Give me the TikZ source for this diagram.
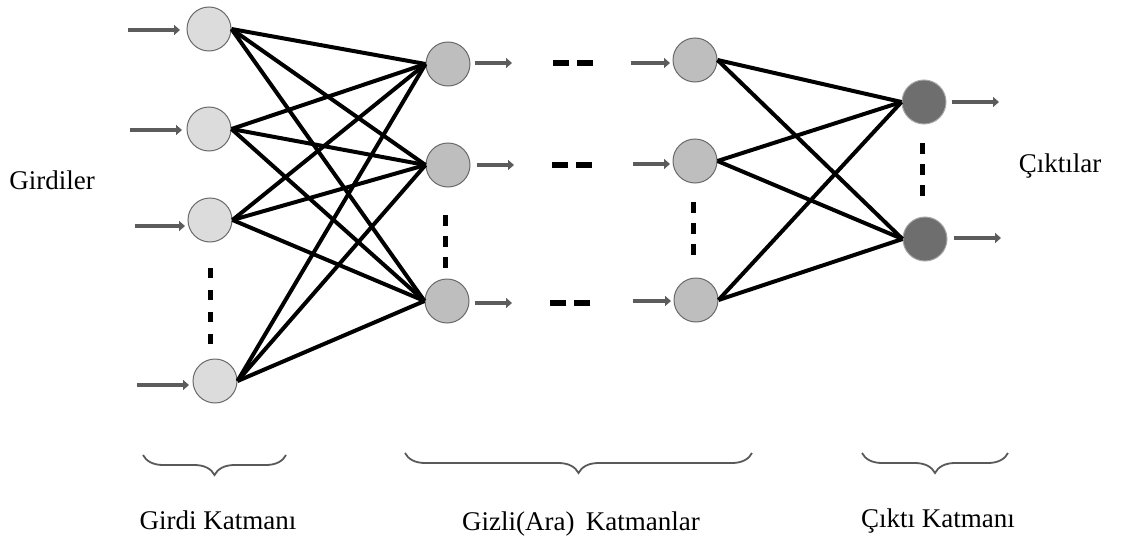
\documentclass[tikz,border=0pt]{standalone}
\usepackage{fontspec}
\setmainfont{Liberation Serif}
\usetikzlibrary{arrows.meta,decorations.pathreplacing}

\definecolor{infill}{HTML}{DCDCDC}
\definecolor{hidfill}{HTML}{BEBEBE}
\definecolor{outfill}{HTML}{6E6E6E}
\definecolor{arrowgray}{HTML}{5C5C5C}
\definecolor{ringgray}{HTML}{6A6A6A}

\tikzset{
  neuron/.style={circle, minimum size=44pt, inner sep=0pt, draw=ringgray, line width=1pt},
  inneuron/.style={neuron, fill=infill},
  hidneuron/.style={neuron, fill=hidfill},
  outneuron/.style={neuron, fill=outfill, draw=gray!70},
  weight/.style={line width=4pt, black},
  flow/.style={line width=4pt, arrowgray, -{Triangle[length=6pt,width=10pt]}},
  vdots/.style={line width=5pt, black, dash pattern=on 11pt off 10pt},
  hdots/.style={line width=5.5pt, black, dash pattern=on 16pt off 8pt},
  layerbrace/.style={decorate, decoration={brace, mirror, amplitude=20pt}, line width=1.8pt, gray!70!black},
  label/.style={font=\fontsize{27}{30}\selectfont, anchor=base, inner sep=0pt}
}

\begin{document}
\begin{tikzpicture}[x=1pt, y=-1pt]
\useasboundingbox (0,0) rectangle (1133,538);

% input layer
\node[inneuron] (i1) at (209,29) {};
\node[inneuron] (i2) at (209,129) {};
\node[inneuron] (i3) at (210,220) {};
\node[inneuron] (i4) at (215,381) {};

% first hidden layer
\node[hidneuron] (h1) at (448,64) {};
\node[hidneuron] (h2) at (448,165) {};
\node[hidneuron] (h3) at (447,301) {};

% last hidden layer
\node[hidneuron] (k1) at (695,60) {};
\node[hidneuron] (k2) at (695,161) {};
\node[hidneuron] (k3) at (696,300) {};

% output layer
\node[outneuron] (o1) at (924,102) {};
\node[outneuron] (o2) at (925,239) {};

% weights: input -> first hidden
\foreach \a in {i1,i2,i3,i4}
  \foreach \b in {h1,h2,h3}
    \draw[weight] (\a.east) -- (\b.west);

% weights: last hidden -> output
\foreach \a in {k1,k2,k3}
  \foreach \b in {o1,o2}
    \draw[weight] (\a.east) -- (\b.west);

% incoming signals
\coordinate (x1) at (128,30);
\coordinate (x2) at (130,130);
\coordinate (x3) at (135,226);
\coordinate (x4) at (137,385);
\draw[flow] (x1) -- (x1 -| 180,0);
\draw[flow] (x2) -- (x2 -| 182,0);
\draw[flow] (x3) -- (x3 -| 185,0);
\draw[flow] (x4) -- (x4 -| 189,0);

% signals leaving the first hidden layer
\coordinate (a1) at (512,63);
\coordinate (a2) at (514,165);
\coordinate (a3) at (512,303);
\draw[flow] (h1.east |- a1) ++(4,0) -- (a1);
\draw[flow] (h2.east |- a2) ++(6,0) -- (a2);
\draw[flow] (h3.east |- a3) ++(5,0) -- (a3);

% signals entering the last hidden layer
\coordinate (b1) at (631,63);
\coordinate (b2) at (633,164);
\coordinate (b3) at (633,301);
\draw[flow] (b1) -- (b1 -| 670,0);
\draw[flow] (b2) -- (b2 -| 670,0);
\draw[flow] (b3) -- (b3 -| 671,0);

% outputs
\coordinate (y1) at (999,102);
\coordinate (y2) at (1001,238);
\draw[flow] (o1.east |- y1) ++(5,0) -- (y1);
\draw[flow] (o2.east |- y2) ++(6,0) -- (y2);

% ellipsis between the hidden layers
\coordinate (d1) at (553,63);
\coordinate (d2) at (552,165);
\coordinate (d3) at (550,303);
\draw[hdots] (d1) -- ++(40,0);
\draw[hdots] (d2) -- ++(40,0);
\draw[hdots] (d3) -- ++(40,0);

% vertical ellipses inside the layers
\draw[vdots, dash pattern=on 10pt off 12pt] (i3.center |- 0,268) -- (i3.center |- 0,344);
\draw[vdots] (445,215) -- (445,269);
\draw[vdots] (693,202) -- (693,256);
\draw[vdots] (922,143) -- (922,197);

% side labels
\node[label] (inlbl) at (52,189) {Girdiler};
\node[label] (outlbl) at (1060,172) {Çıktılar};

% layer braces
\draw[layerbrace] (143,455) -- (286,455);
\draw[layerbrace] (405,453) -- (752,453);
\draw[layerbrace] (862,453) -- (1008,453);

% layer names
\node[label] (l1) at (218,529) {Girdi Katmanı};
\node[label] (l2) at (581,530) {Gizli(Ara)\, Katmanlar};
\node[label] (l3) at (938,527) {Çıktı Katmanı};
\end{tikzpicture}
\end{document}
